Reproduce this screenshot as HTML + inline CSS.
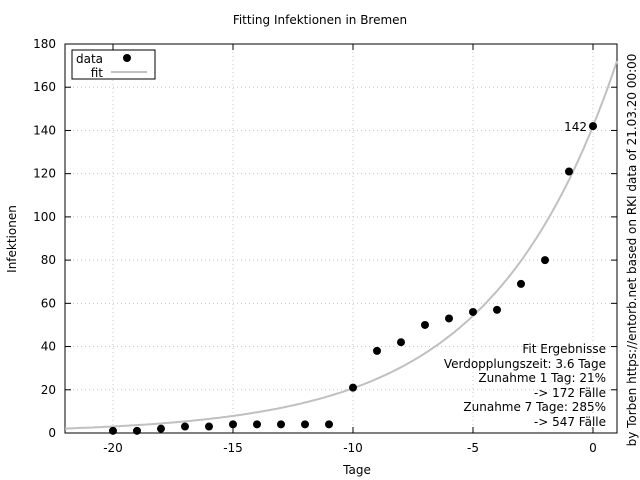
<!DOCTYPE html>
<html><head><meta charset="utf-8"><style>
body{margin:0;background:#fff;}
svg{display:block;font-family:"DejaVu Sans","Liberation Sans",sans-serif;}
</style></head><body>
<svg id="chart" width="640" height="480" viewBox="0 0 640 480">
<rect width="640" height="480" fill="#fff"/>
<text x="320" y="24" text-anchor="middle" font-size="12">Fitting Infektionen in Bremen</text>
<g id="grid"></g>
<g id="axes"></g>
<g id="fit"></g>
<g id="pts"></g>
<text x="357" y="474" text-anchor="middle" font-size="12">Tage</text>
<text transform="translate(16,239) rotate(-90)" text-anchor="middle" font-size="12">Infektionen</text>
<text transform="translate(636,250) rotate(-90)" text-anchor="middle" font-size="12">by Torben https://entorb.net based on RKI data of 21.03.20 00:00</text>
<g font-size="12" text-anchor="end">
<text x="606" y="353">Fit Ergebnisse</text>
<text x="606" y="368">Verdopplungszeit: 3.6 Tage</text>
<text x="606" y="382">Zunahme 1 Tag: 21%</text>
<text x="606" y="397">-&gt; 172 Fälle</text>
<text x="606" y="411">Zunahme 7 Tage: 285%</text>
<text x="606" y="426">-&gt; 547 Fälle</text>
</g>
<g>
<rect x="72" y="50" width="83" height="29" fill="#fff" stroke="#000" stroke-width="1"/>
<text x="76" y="63" font-size="12">data</text>
<circle cx="127" cy="58" r="4" fill="#000"/>
<text x="103" y="77" font-size="12" text-anchor="end">fit</text>
<line x1="111" y1="72" x2="147" y2="72" stroke="#c0c0c0" stroke-width="2"/>
</g>
</svg>
<script>
const days=[-20,-19,-18,-17,-16,-15,-14,-13,-12,-11,-10,-9,-8,-7,-6,-5,-4,-3,-2,-1,0];
const cases=[1,1,2,3,3,4,4,4,4,4,21,38,42,50,53,56,57,69,80,121,142];
const xTicks=[-20,-15,-10,-5,0];
const yTicks=[0,20,40,60,80,100,120,140,160,180];
const fitA=[142];
const fitDoubling=[3.6];
const L=65,R=617,T=44,B=433,xmin=-22,xmax=1,ymin=0,ymax=180;
const X=v=>L+(v-xmin)/(xmax-xmin)*(R-L);
const Y=v=>B-(v-ymin)/(ymax-ymin)*(B-T);
const NS="http://www.w3.org/2000/svg";
function mk(p,tag,a){const e=document.createElementNS(NS,tag);for(const k in a)e.setAttribute(k,a[k]);p.appendChild(e);return e;}
const grid=document.getElementById('grid'),axes=document.getElementById('axes');
xTicks.forEach(t=>{
 const g=mk(grid,'line',{x1:X(t),x2:X(t),y1:T,y2:B,stroke:'#c8c8c8','stroke-dasharray':'1,3'});
 
 mk(axes,'line',{x1:X(t),x2:X(t),y1:B,y2:B-6,stroke:'#000'});
 mk(axes,'line',{x1:X(t),x2:X(t),y1:T,y2:T+6,stroke:'#000'});
 const tx=mk(axes,'text',{x:X(t),y:B+19,'text-anchor':'middle','font-size':12});tx.textContent=t;
 
});
yTicks.forEach(t=>{
 if(t>0&&t<180){const g=mk(grid,'line',{x1:L,x2:R,y1:Y(t),y2:Y(t),stroke:'#c8c8c8','stroke-dasharray':'1,3'});
 }
 mk(axes,'line',{x1:L,x2:L+6,y1:Y(t),y2:Y(t),stroke:'#000'});
 mk(axes,'line',{x1:R,x2:R-6,y1:Y(t),y2:Y(t),stroke:'#000'});
 const tx=mk(axes,'text',{x:L-9,y:Y(t)+4,'text-anchor':'end','font-size':12});tx.textContent=t;
 
});
const fr=mk(axes,'rect',{x:L,y:T,width:R-L,height:B-T,fill:'none',stroke:'#000'});

const b=Math.log(2)/fitDoubling[0];let d='';
for(let i=0;i<=200;i++){const x=xmin+(xmax-xmin)*i/200;let y=fitA[0]*Math.exp(b*x);if(y>ymax)break;d+=(i?'L':'M')+X(x).toFixed(1)+','+Y(y).toFixed(1);}
const fp=mk(document.getElementById('fit'),'path',{d:d,fill:'none',stroke:'#c0c0c0','stroke-width':2});

const pts=document.getElementById('pts');
days.forEach((x,i)=>{const c=mk(pts,'circle',{cx:X(x),cy:Y(cases[i]),r:4,fill:'#000'});
 });
const li=days.length-1;
const lab=mk(pts,'text',{x:X(days[li])-6,y:Y(cases[li])+5,'text-anchor':'end','font-size':12});lab.textContent=cases[li];

</script>
</body></html>
